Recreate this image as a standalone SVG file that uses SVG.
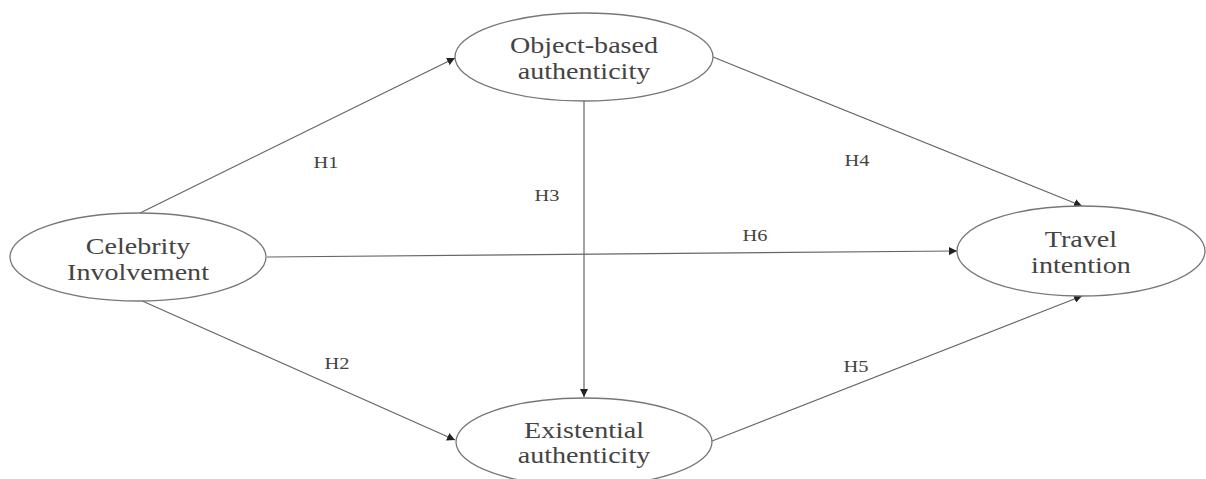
<svg xmlns="http://www.w3.org/2000/svg" width="1206" height="479" viewBox="0 0 1206 479">
<defs>
<style>
.node ellipse{fill:#fff;stroke:#777;stroke-width:1.3}
.node text{font-family:"Liberation Serif",serif;font-size:24px;fill:#444;text-anchor:middle}
.lbl{font-family:"Liberation Serif",serif;font-size:17px;fill:#444;text-anchor:middle}
#connectors line{stroke:#666;stroke-width:1.2;marker-end:url(#arr)}
</style>
<marker id="arr" viewBox="0 0 10 10" refX="10" refY="5" markerWidth="8" markerHeight="8" markerUnits="userSpaceOnUse" orient="auto">
<path d="M0,0 L10,5 L0,10 z" fill="#222"/>
</marker>
</defs>
<rect width="1206" height="479" fill="#fff"/>
<g id="connectors">
<line x1="140" y1="213" x2="455" y2="58"/>
<line x1="713" y1="57" x2="1082" y2="206"/>
<line x1="584" y1="101" x2="584" y2="397"/>
<line x1="267" y1="257" x2="957" y2="251"/>
<line x1="140" y1="300" x2="455" y2="440"/>
<line x1="712" y1="441" x2="1082" y2="296"/>
</g>
<g id="labels">
<text class="lbl" transform="translate(326,168) scale(1.2,1)">H1</text>
<text class="lbl" transform="translate(547,201) scale(1.2,1)">H3</text>
<text class="lbl" transform="translate(857,166) scale(1.2,1)">H4</text>
<text class="lbl" transform="translate(755,241) scale(1.2,1)">H6</text>
<text class="lbl" transform="translate(337,369) scale(1.2,1)">H2</text>
<text class="lbl" transform="translate(856,372) scale(1.2,1)">H5</text>
</g>
<g id="object" class="node">
<ellipse cx="584" cy="57" rx="129" ry="44"/>
<text transform="translate(584,53) scale(1.17,1)">Object-based</text>
<text transform="translate(584,79) scale(1.17,1)">authenticity</text>
</g>
<g id="celebrity" class="node">
<ellipse cx="138" cy="257" rx="128" ry="44"/>
<text transform="translate(138,254) scale(1.17,1)">Celebrity</text>
<text transform="translate(138,280) scale(1.17,1)">Involvement</text>
</g>
<g id="travel" class="node">
<ellipse cx="1081" cy="251" rx="124" ry="45"/>
<text transform="translate(1081,247) scale(1.17,1)">Travel</text>
<text transform="translate(1081,273) scale(1.17,1)">intention</text>
</g>
<g id="existential" class="node">
<ellipse cx="584" cy="442" rx="128" ry="44"/>
<text transform="translate(584,438) scale(1.17,1)">Existential</text>
<text transform="translate(584,463) scale(1.17,1)">authenticity</text>
</g>
</svg>
